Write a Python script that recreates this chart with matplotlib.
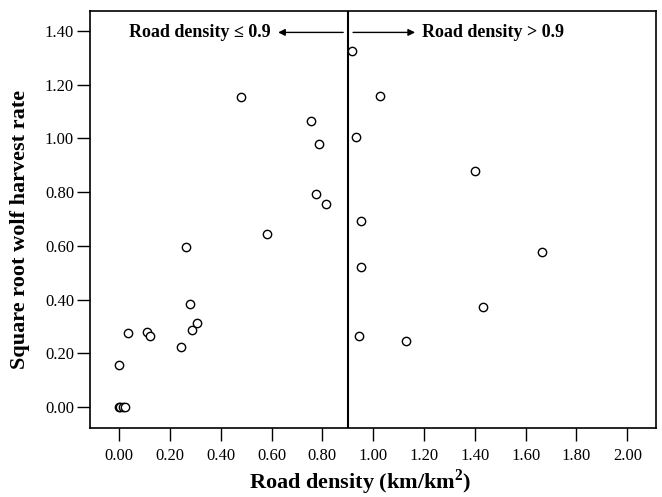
"""
Scatter of square-root wolf harvest rate against road density,
split at road density 0.9 km/km2.
"""
import matplotlib
matplotlib.use("Agg")
import matplotlib.pyplot as plt

plt.rcParams.update({
    "font.family": ["Liberation Serif", "DejaVu Serif"],
    "font.size": 12,
    "mathtext.fontset": "custom",
    "mathtext.rm": "Liberation Serif",
    "mathtext.bf": "Liberation Serif:bold",
})

# Data
road_density = [
    0.000, 0.005, 0.015, 0.025, -0.001, 0.037, 0.110, 0.122, 0.243, 0.264,
    0.281, 0.289, 0.307, 0.480, 0.584, 0.756, 0.777, 0.786, 0.816,
    0.916, 0.932, 0.944, 0.951, 0.953, 1.025, 1.131, 1.400, 1.433, 1.663,
]
harvest_rate = [
    0.000, 0.000, 0.000, 0.000, 0.158, 0.276, 0.281, 0.264, 0.222, 0.596,
    0.383, 0.287, 0.313, 1.156, 0.643, 1.066, 0.795, 0.979, 0.757,
    1.325, 1.005, 0.264, 0.693, 0.520, 1.160, 0.246, 0.878, 0.371, 0.578,
]
split_value = 0.9
x_ticks = [0.0, 0.2, 0.4, 0.6, 0.8, 1.0, 1.2, 1.4, 1.6, 1.8, 2.0]
y_ticks = [0.0, 0.2, 0.4, 0.6, 0.8, 1.0, 1.2, 1.4]

fig = plt.figure(figsize=(6.62, 4.97), dpi=100)
ax = fig.add_axes([0.136, 0.139, 0.855, 0.839])

ax.plot(road_density, harvest_rate, linestyle="none", marker="o",
        markersize=6, markerfacecolor="white", markeredgecolor="black",
        markeredgewidth=1.0)

ax.axvline(split_value, color="black", linewidth=1.5)

ax.set_xlim(-0.114, 2.113)
ax.set_ylim(-0.078, 1.475)
ax.set_xticks(x_ticks)
ax.set_yticks(y_ticks)
ax.set_xticklabels([f"{v:.2f}" for v in x_ticks])
ax.set_yticklabels([f"{v:.2f}" for v in y_ticks])
ax.tick_params(direction="out", length=9.5, width=1.0, labelsize=12,
               top=False, right=False)
ax.tick_params(axis="x", pad=5)
ax.tick_params(axis="y", pad=2)
for s in ax.spines.values():
    s.set_linewidth(1.2)

ax.set_xlabel(r"Road density (km/km$^{\mathbf{2}}$)", fontsize=16, weight="bold")
ax.set_ylabel("Square root wolf harvest rate", fontsize=16, weight="bold")
ax.xaxis.set_label_coords(0.477, -0.094)
ax.yaxis.set_label_coords(-0.106, 0.475)

# arrows and labels either side of the split
ax.annotate("", xy=(0.626, 1.395), xytext=(0.882, 1.395),
            arrowprops=dict(arrowstyle="-|>", color="black", lw=1.0,
                            mutation_scale=10, shrinkA=0, shrinkB=0))
ax.annotate("", xy=(1.165, 1.395), xytext=(0.921, 1.395),
            arrowprops=dict(arrowstyle="-|>", color="black", lw=1.0,
                            mutation_scale=10, shrinkA=0, shrinkB=0))
ax.text(0.596, 1.393, "Road density \u2264 0.9", ha="right", va="center",
        fontsize=13, weight="bold")
ax.text(1.193, 1.393, "Road density > 0.9", ha="left", va="center",
        fontsize=13, weight="bold")

fig.savefig("out.png", dpi=100)
